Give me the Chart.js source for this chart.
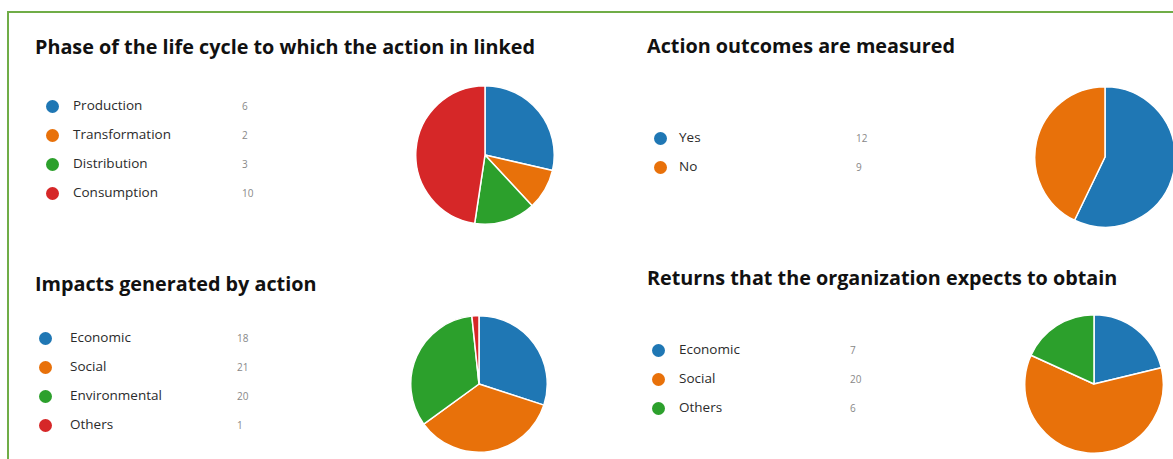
<!DOCTYPE html>
<html lang="en">
  <head>
    <meta charset="UTF-8" />
    <style>
      html, body { margin: 0; padding: 0; background: #fff; overflow: hidden; }
      body { width: 1173px; height: 459px; position: relative; font-family: "Open Sans", "Noto Sans", sans-serif; }
      .frame { position: absolute; left: 7px; top: 11px; width: 1200px; height: 500px;
               border-left: 2px solid #70ad47; border-top: 2px solid #70ad47; }
      .title { position: absolute; font-size: 19.8px; font-weight: 700; color: #111; white-space: nowrap; line-height: 1; }
      .row { position: absolute; height: 20px; }
      .dot { position: absolute; width: 13px; height: 13px; border-radius: 50%; top: -6.5px; }
      .lbl { position: absolute; font-size: 13.5px; color: #2b2b2b; top: -10px; white-space: nowrap; }
      .cnt { position: absolute; font-size: 10px; color: #888; top: -7px; }
      .pie { position: absolute; }
    </style>
  </head>
  <body>
    <div class="frame"></div>
    <div id="panels"></div>

    <script src="https://cdn.jsdelivr.net/npm/chart.js@4.4.0/dist/chart.umd.min.js"></script>
    <script>
      // survey answers
      var phaseLabels = ["Production", "Transformation", "Distribution", "Consumption"];
      var phaseCounts = [6, 2, 3, 10];

      var measuredLabels = ["Yes", "No"];
      var measuredCounts = [12, 9];

      var impactLabels = ["Economic", "Social", "Environmental", "Others"];
      var impactCounts = [18, 21, 20, 1];

      var returnLabels = ["Economic", "Social", "Others"];
      var returnCounts = [7, 20, 6];

      var colors = ["#1f77b4", "#e8710a", "#2ca02c", "#d62728"];

      // where each block sits on the page
      var panels = [
        { title: "Phase of the life cycle to which the action in linked", labels: phaseLabels, counts: phaseCounts,
          titleX: 35, titleY: 37, dotX: 52, textX: 73, cntX: 242, rowY: 106, cx: 485, cy: 155, r: 69 },
        { title: "Action outcomes are measured", labels: measuredLabels, counts: measuredCounts,
          titleX: 647, titleY: 36, dotX: 660, textX: 679, cntX: 856, rowY: 138, cx: 1105, cy: 157, r: 70 },
        { title: "Impacts generated by action", labels: impactLabels, counts: impactCounts,
          titleX: 35, titleY: 274, dotX: 45, textX: 70, cntX: 237, rowY: 338, cx: 479, cy: 384, r: 68 },
        { title: "Returns that the organization expects to obtain", labels: returnLabels, counts: returnCounts,
          titleX: 647, titleY: 268, dotX: 658, textX: 679, cntX: 850, rowY: 350, cx: 1094, cy: 384, r: 69 }
      ];
      var rowGap = 29;

      var root = document.getElementById("panels");

      panels.forEach(function (p) {
        var t = document.createElement("div");
        t.className = "title";
        t.style.left = p.titleX + "px";
        t.style.top = p.titleY + "px";
        t.textContent = p.title;
        root.appendChild(t);

        /* legend rows with the counts next to them */
        p.labels.forEach(function (name, i) {
          var y = p.rowY + i * rowGap;
          var row = document.createElement("div");
          row.className = "row";
          row.style.left = "0px";
          row.style.top = y + "px";
          row.innerHTML =
            '<span class="dot" style="left:' + (p.dotX - 6.5) + 'px;background:' + colors[i] + '"></span>' +
            '<span class="lbl" style="left:' + p.textX + 'px">' + name + '</span>' +
            '<span class="cnt" style="left:' + p.cntX + 'px">' + p.counts[i] + '</span>';
          root.appendChild(row);
        });

        /* the pie itself */
        var size = 2 * p.r + 2;
        var box = document.createElement("div");
        box.className = "pie";
        box.style.left = (p.cx - size / 2) + "px";
        box.style.top = (p.cy - size / 2) + "px";
        box.style.width = size + "px";
        box.style.height = size + "px";
        var cv = document.createElement("canvas");
        box.appendChild(cv);
        root.appendChild(box);

        new Chart(cv.getContext("2d"), {
          type: "pie",
          data: {
            labels: p.labels,
            datasets: [{
              data: p.counts,
              backgroundColor: colors.slice(0, p.counts.length),
              borderColor: "#ffffff",
              borderWidth: 1.5
            }]
          },
          options: {
            responsive: true,
            maintainAspectRatio: false,
            animation: false,
            layout: { padding: 0 },
            plugins: { legend: { display: false }, tooltip: { enabled: false } }
          }
        });
      });
    </script>
  </body>
</html>
